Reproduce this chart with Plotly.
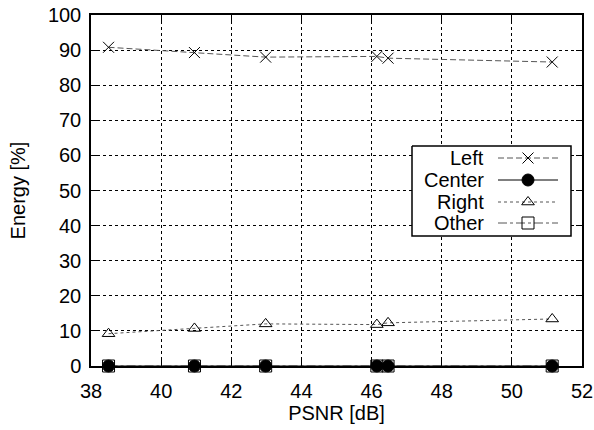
import plotly.graph_objects as go

psnr = [38.5, 40.95, 42.98, 46.15, 46.47, 51.15]
left = [90.8, 89.3, 88.0, 88.2, 87.7, 86.6]
center = [0, 0, 0, 0, 0, 0]
right = [9.2, 10.7, 12.0, 11.8, 12.3, 13.4]
other = [0, 0, 0, 0, 0, 0]
names = ["Left", "Center", "Right", "Other"]

FONT = "Liberation Sans, Arial, sans-serif"
FS = 20

styles = {
    "Left": dict(dash="6px,3px", lcolor="#555555", symbol="x-thin-open", msize=11, mcolor="black"),
    "Center": dict(dash="solid", lcolor="black", symbol="circle", msize=12, mcolor="black"),
    "Right": dict(dash="3px,3px", lcolor="#555555", symbol="triangle-up-open", msize=11, mcolor="black"),
    "Other": dict(dash="dashdot", lcolor="#555555", symbol="square-open", msize=12, mcolor="black"),
}
series = {"Left": left, "Center": center, "Right": right, "Other": other}

fig = go.Figure()
for nm in ["Left", "Right", "Other", "Center"]:
    s = styles[nm]
    fig.add_trace(go.Scatter(
        x=psnr, y=series[nm], mode="lines+markers", name=nm, showlegend=False,
        line=dict(color=s["lcolor"], width=1, dash=s["dash"]),
        marker=dict(symbol=s["symbol"], size=s["msize"], color=s["mcolor"],
                    line=dict(color="black", width=1)),
        cliponaxis=False,
    ))

# custom legend (pixel coordinates on an overlay axis)
bx0, bx1, by0, by1 = 412, 571, 146, 236
ys = [158, 180, 202, 223]
fig.add_trace(go.Scatter(
    x=[bx0, bx1, bx1, bx0, bx0], y=[by0, by0, by1, by1, by0], xaxis="x2", yaxis="y2",
    mode="lines", fill="toself", fillcolor="white",
    line=dict(color="black", width=1.5), showlegend=False, hoverinfo="skip",
    cliponaxis=False,
))
for nm, yy in zip(names, ys):
    s = styles[nm]
    fig.add_annotation(xref="x2", yref="y2", x=486, y=yy, text=nm, showarrow=False,
                       xanchor="right", yanchor="middle",
                       font=dict(family=FONT, size=FS, color="black"))
    fig.add_trace(go.Scatter(
        x=[498, 558], y=[yy, yy], xaxis="x2", yaxis="y2", mode="lines", showlegend=False,
        line=dict(color=s["lcolor"], width=1, dash=s["dash"]),
        hoverinfo="skip", cliponaxis=False,
    ))
    fig.add_trace(go.Scatter(
        x=[528], y=[yy], xaxis="x2", yaxis="y2", mode="markers", showlegend=False,
        marker=dict(symbol=s["symbol"], size=s["msize"], color=s["mcolor"],
                    line=dict(color="black", width=1)),
        hoverinfo="skip", cliponaxis=False,
    ))

axis_common = dict(
    showline=True, linecolor="black", linewidth=1.5, mirror="ticks",
    ticks="inside", ticklen=6, tickcolor="black", tickwidth=1,
    showgrid=True, gridcolor="black", gridwidth=1, griddash="dot",
    zeroline=False, tickfont=dict(family=FONT, size=FS, color="black"),
    automargin=False,
)

fig.update_layout(
    width=594, height=430,
    margin=dict(l=91, r=12, t=15, b=64),
    paper_bgcolor="white", plot_bgcolor="white",
    font=dict(family=FONT, size=FS, color="black"),
    xaxis=dict(range=[38, 52], dtick=2, tick0=38, ticklabelstandoff=6,
               title=dict(text="PSNR [dB]", standoff=4,
                          font=dict(family=FONT, size=FS)), **axis_common),
    yaxis=dict(range=[0, 100], dtick=10, tick0=0, ticklabelstandoff=4,
               title=dict(text="Energy [%]", standoff=17,
                          font=dict(family=FONT, size=FS)), **axis_common),
    xaxis2=dict(overlaying="x", range=[91, 582], visible=False, fixedrange=True),
    yaxis2=dict(overlaying="y", range=[366, 15], visible=False, fixedrange=True),
    showlegend=False,
    hovermode=False,
)

fig.write_html("out.html", config={"displayModeBar": False},
               post_script="document.body.style.margin='0';")
